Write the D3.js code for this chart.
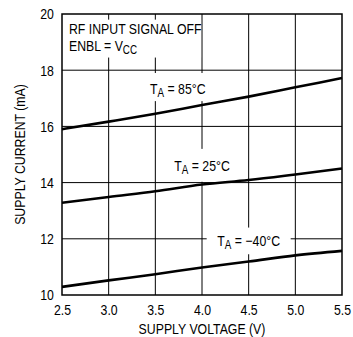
<!DOCTYPE html>
<html>
<head>
<meta charset="utf-8">
<script src="https://cdn.jsdelivr.net/npm/d3@7"></script>
<style>
  body { margin: 0; background: #fff; }
  text { font-family: "Liberation Sans", Arial, sans-serif; fill: #000; }
</style>
</head>
<body>
<script>
// supply voltage (V) at each sample
const voltage = [2.5, 3.0, 3.5, 4.0, 4.5, 5.0, 5.5];
// supply current (mA) per ambient temperature
const current85 = [15.9, 16.17, 16.45, 16.76, 17.06, 17.39, 17.72];
const current25 = [13.28, 13.49, 13.69, 13.93, 14.09, 14.29, 14.5];
const currentM40 = [10.29, 10.52, 10.74, 10.98, 11.19, 11.41, 11.57];

const xTicks = [2.5, 3.0, 3.5, 4.0, 4.5, 5.0, 5.5];
const yTicks = [10, 12, 14, 16, 18, 20];

const w = 353;
const h = 337;
const margin = {top: 14, right: 11, bottom: 42, left: 62};
const iw = w - margin.left - margin.right;
const ih = h - margin.top - margin.bottom;
const narrow = "scale(0.82,1)";

const x = d3.scaleLinear().domain([2.5, 5.5]).range([0, iw]);
const y = d3.scaleLinear().domain([10, 20]).range([ih, 0]);

const svg = d3.select("body")
  .append("svg")
  .attr("width", w)
  .attr("height", h);

const g = svg.append("g")
  .attr("transform", `translate(${margin.left},${margin.top})`);

// grid
g.selectAll(".vgrid")
  .data(xTicks.slice(1, -1))
  .enter()
  .append("line")
  .attr("x1", d => x(d)).attr("x2", d => x(d))
  .attr("y1", 0).attr("y2", ih)
  .style("stroke", "#000")
  .style("stroke-width", 1);

g.selectAll(".hgrid")
  .data(yTicks.slice(1, -1))
  .enter()
  .append("line")
  .attr("x1", 0).attr("x2", iw)
  .attr("y1", d => y(d)).attr("y2", d => y(d))
  .style("stroke", "#000")
  .style("stroke-width", 1);

// white knock-out boxes behind the notes
const boxes = [
  [2.52, 3.99, 19.8, 18.45],
  [3.42, 4.06, 17.9, 16.9],
  [3.6, 4.42, 15.2, 14.03],
  [4.05, 4.95, 12.4, 11.45]
];
g.selectAll(".box")
  .data(boxes)
  .enter()
  .append("rect")
  .attr("x", d => x(d[0]))
  .attr("y", d => y(d[2]))
  .attr("width", d => x(d[1]) - x(d[0]))
  .attr("height", d => y(d[3]) - y(d[2]))
  .style("fill", "#fff");

// frame
g.append("rect")
  .attr("width", iw)
  .attr("height", ih)
  .style("fill", "none")
  .style("stroke", "#000")
  .style("stroke-width", 1.5);

// curves
const line = d3.line()
  .x((d, i) => x(voltage[i]))
  .y(d => y(d))
  .curve(d3.curveMonotoneX);

[current85, current25, currentM40].forEach(s => {
  g.append("path")
    .attr("d", line(s))
    .style("fill", "none")
    .style("stroke", "#000")
    .style("stroke-width", 2.6);
});

// axes labels
const xAxis = d3.axisBottom(x).tickValues(xTicks).tickFormat(d3.format(".1f")).tickSize(0).tickPadding(9);
const gx = g.append("g").attr("transform", `translate(0,${ih})`).call(xAxis);
gx.select(".domain").remove();
gx.selectAll("text").style("font-size", "15px").attr("fill", "#000").attr("transform", narrow);

const yAxis = d3.axisLeft(y).tickValues(yTicks).tickSize(0).tickPadding(10);
const gy = g.append("g").call(yAxis);
gy.select(".domain").remove();
gy.selectAll("text").style("font-size", "15px").attr("fill", "#000").attr("transform", narrow);

function label(parent, px, py, anchor) {
  return parent.append("text")
    .attr("transform", `translate(${px},${py}) ${narrow}`)
    .attr("text-anchor", anchor)
    .style("font-size", "15px");
}

label(svg, margin.left + iw / 2, 334, "middle").text("SUPPLY VOLTAGE (V)");

svg.append("text")
  .attr("transform", `translate(25,${margin.top + ih / 2}) rotate(-90) ${narrow}`)
  .attr("text-anchor", "middle")
  .style("font-size", "15px")
  .text("SUPPLY CURRENT (mA)");

// notes
label(g, 7, 20, "start").text("RF INPUT SIGNAL OFF");

const note2 = label(g, 7, 37, "start");
note2.append("tspan").text("ENBL = V");
note2.append("tspan").attr("dy", 3).style("font-size", "12px").text("CC");

function tempLabel(v, c, t) {
  const tx = label(g, x(v), y(c), "middle");
  tx.append("tspan").text("T");
  tx.append("tspan").attr("dy", 3).style("font-size", "12px").text("A");
  tx.append("tspan").attr("dy", -3).text(" = " + t + "°C");
}
tempLabel(3.74, 17.14, "85");
tempLabel(4.0, 14.4, "25");
tempLabel(4.5, 11.74, "\u221240");
</script>
</body>
</html>
